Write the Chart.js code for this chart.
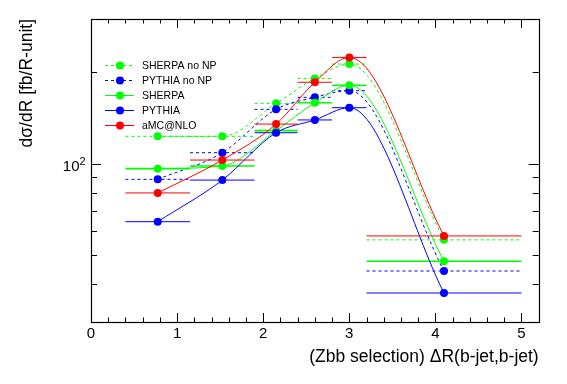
<!DOCTYPE html>
<html>
<head>
<meta charset="utf-8">
<script src="https://cdn.jsdelivr.net/npm/chart.js@4"></script>
<style>
  body { margin: 0; background: #fff; }
  canvas { display: block; }
</style>
</head>
<body>
<canvas id="drChart" width="567" height="384"></canvas>
<script>
// bins of dR(b-jet,b-jet)
const binLo = [0.4, 1.15, 1.9, 2.4, 2.8, 3.2];
const binHi = [1.15, 1.9, 2.4, 2.8, 3.2, 5.0];
const binCenter = [0.775, 1.525, 2.15, 2.6, 3.0, 4.1];

// dsigma/dR [fb/R-unit]
const sherpaNoNP = [123, 123, 158, 191, 213, 56];
const pythiaNoNP = [88.7, 108.6, 151, 165.4, 174, 44.2];
const sherpa = [96.2, 98.2, 128.4, 158.8, 181.3, 47.6];
const pythia = [64.3, 88.2, 126.4, 139.3, 152.9, 37.4];
const amcnlo = [80, 102.7, 135, 185.5, 224, 57.7];

const xTicks = [0, 1, 2, 3, 4, 5];
const yTicks = [100];
const yMinorTicks = [30, 40, 50, 60, 70, 80, 90, 200, 300];

const FONT = "'Liberation Sans', Arial, Helvetica, sans-serif";

const series = [
    { label: 'SHERPA no NP', values: sherpaNoNP, color: '#00ff00', dash: [3, 3], order: 5 },
    { label: 'PYTHIA no NP', values: pythiaNoNP, color: '#0000ff', dash: [3, 3], order: 4 },
    { label: 'SHERPA', values: sherpa, color: '#00ff00', dash: [], order: 3 },
    { label: 'PYTHIA', values: pythia, color: '#0000ff', dash: [], order: 2 },
    { label: 'aMC@NLO', values: amcnlo, color: '#ff0000', dash: [], order: 1 }
];

const datasets = [];
series.forEach(s => {
    // horizontal bars = bin width
    const bars = [];
    s.values.forEach((v, i) => {
        bars.push({ x: binLo[i], y: v }, { x: binHi[i], y: v }, { x: binHi[i], y: null });
    });
    datasets.push({
        label: s.label + ' bins',
        data: bars,
        borderColor: s.color,
        borderWidth: s.color === '#00ff00' && !s.dash.length ? 1.6 : 1,
        borderDash: s.dash,
        pointRadius: 0,
        tension: 0,
        spanGaps: false,
        order: s.order + 0.5
    });
    // smooth curve through the points
    datasets.push({
        label: s.label,
        data: binCenter.map((x, i) => ({ x: x, y: s.values[i] })),
        borderColor: s.color,
        borderWidth: 1,
        borderDash: s.dash,
        cubicInterpolationMode: 'monotone',
        pointRadius: 4,
        pointBackgroundColor: s.color,
        pointBorderWidth: 0,
        order: s.order
    });
});

// frame with ROOT-style ticks inside on all four sides, plus the 10^2 label
const framePlugin = {
    id: 'frame',
    afterDatasetsDraw(chart) {
        const { ctx, chartArea: a, scales: { x, y } } = chart;
        ctx.save();
        ctx.strokeStyle = '#000';
        ctx.lineWidth = 1;
        ctx.beginPath();
        for (let v = 0; v <= 5.2001; v += 0.2) {
            const px = Math.round(x.getPixelForValue(v)) + 0.5;
            const len = Math.abs(v - Math.round(v)) < 1e-6 ? 9 : 4.5;
            ctx.moveTo(px, a.bottom); ctx.lineTo(px, a.bottom - len);
            ctx.moveTo(px, a.top); ctx.lineTo(px, a.top + len);
        }
        yTicks.concat(yMinorTicks).forEach(v => {
            const py = Math.round(y.getPixelForValue(v)) + 0.5;
            const len = yTicks.includes(v) ? 10 : 6;
            ctx.moveTo(a.left, py); ctx.lineTo(a.left + len, py);
            ctx.moveTo(a.right, py); ctx.lineTo(a.right - len, py);
        });
        ctx.stroke();
        ctx.lineWidth = 1.2;
        ctx.strokeRect(Math.round(a.left) + 0.5, Math.round(a.top) + 0.5,
            Math.round(a.right - a.left), Math.round(a.bottom - a.top));

        // y tick label: 10 with a raised 2
        ctx.fillStyle = '#000';
        ctx.textBaseline = 'alphabetic';
        yTicks.forEach(v => {
            const py = y.getPixelForValue(v);
            ctx.font = '15px ' + FONT;
            ctx.textAlign = 'right';
            ctx.fillText('10', 79.5, py + 7.5);
            ctx.font = '11px ' + FONT;
            ctx.textAlign = 'left';
            ctx.fillText('2', 79.5, py + 1);
        });
        ctx.restore();
    }
};

// legend in the upper left corner
const legendPlugin = {
    id: 'rootLegend',
    afterDraw(chart) {
        const { ctx } = chart;
        ctx.save();
        ctx.font = '10.5px ' + FONT;
        ctx.textBaseline = 'middle';
        series.forEach((s, i) => {
            const yy = 65 + i * 15;
            ctx.strokeStyle = s.color;
            ctx.lineWidth = 1;
            ctx.setLineDash(s.dash);
            ctx.beginPath();
            ctx.moveTo(105, yy + 0.5);
            ctx.lineTo(134, yy + 0.5);
            ctx.stroke();
            ctx.setLineDash([]);
            ctx.fillStyle = s.color;
            ctx.beginPath();
            ctx.arc(120, yy + 0.5, 4, 0, Math.PI * 2);
            ctx.fill();
            ctx.fillStyle = '#000';
            ctx.fillText(s.label, 142, yy + 1);
        });
        ctx.restore();
    }
};

new Chart(document.getElementById('drChart'), {
    type: 'line',
    data: { datasets: datasets },
    options: {
        responsive: false,
        animation: false,
        layout: { padding: { top: 19, right: 28.3, bottom: 0, left: 0 } },
        plugins: { legend: { display: false }, tooltip: { enabled: false } },
        scales: {
            x: {
                type: 'linear',
                min: 0,
                max: 5.2,
                grid: { display: false, drawTicks: false },
                border: { display: false },
                afterBuildTicks: s => { s.ticks = xTicks.map(v => ({ value: v })); },
                afterFit: s => { s.height = 62; },
                ticks: { color: '#000', padding: 3, maxRotation: 0, font: { family: FONT, size: 15 } },
                title: {
                    display: true,
                    text: '(Zbb selection) \u0394R(b-jet,b-jet)',
                    align: 'end',
                    color: '#000',
                    font: { family: FONT, size: 17.5 },
                    padding: { top: 0, bottom: 16.5 }
                }
            },
            y: {
                type: 'logarithmic',
                min: 30,
                max: 300,
                grid: { display: false, drawTicks: false },
                border: { display: false },
                afterBuildTicks: s => { s.ticks = yTicks.map(v => ({ value: v })); },
                afterFit: s => { s.width = 91; },
                ticks: { display: false },
                title: {
                    display: true,
                    text: 'd\u03c3/dR [fb/R-unit]',
                    align: 'end',
                    color: '#000',
                    font: { family: FONT, size: 17.5 },
                    padding: { top: 16.5, bottom: 0 }
                }
            }
        }
    },
    plugins: [framePlugin, legendPlugin]
});
</script>
</body>
</html>
